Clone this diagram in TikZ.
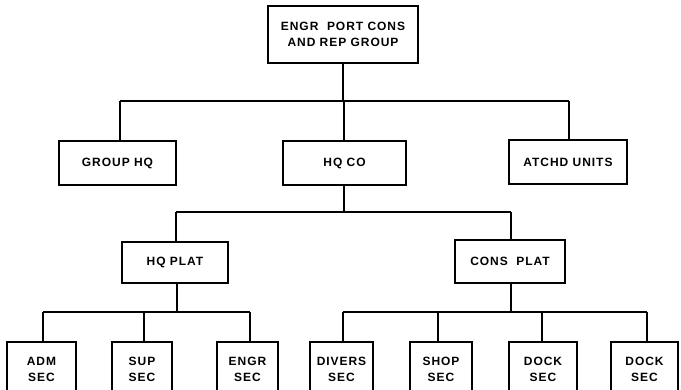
\documentclass[tikz,border=0pt]{standalone}
\usepackage{fontspec}
\newfontfamily\lblfont{Liberation Sans}[LetterSpace=8.0]
\tikzset{
  orgbox/.style={draw, line width=1.5pt, rectangle, inner sep=0pt, align=center,
    font=\lblfont\bfseries\fontsize{12}{16}\selectfont},
  wire/.style={line width=1.6pt}
}
\newcommand{\bx}[6]{% name, x1, x2, y1, y2, text
  \node[orgbox, minimum width={(#3-#2)*1pt}, minimum height={(#5-#4)*1pt}]
    (#1) at ({(#2+#3)/2},{(#4+#5)/2}) {#6};}
\begin{document}
\begin{tikzpicture}[x=1pt,y=-1pt]
\useasboundingbox (0,0) rectangle (681,389);
\clip (0,0) rectangle (681,389);
\fill[white] (0,0) rectangle (681,389);
% boxes
\bx{top}{268}{418}{6}{63}{ENGR\ \ PORT CONS\\AND REP GROUP}
\bx{grp}{59}{176}{141}{185}{GROUP HQ}
\bx{hqco}{283}{406}{141}{185}{HQ CO}
\bx{atchd}{509}{627}{140}{184}{ATCHD UNITS}
\bx{hqplat}{122}{228}{242}{283}{HQ PLAT}
\bx{consplat}{455}{565}{240}{283}{CONS\ \ PLAT}
\bx{adm}{7}{76}{342}{396}{ADM\\SEC}
\bx{sup}{112}{172}{342}{396}{SUP\\SEC}
\bx{engrsec}{217}{278}{342}{396}{ENGR\\SEC}
\bx{divers}{310}{373}{342}{396}{DIVERS\\SEC}
\bx{shop}{410}{472}{342}{396}{SHOP\\SEC}
\bx{docka}{509}{577}{342}{396}{DOCK\\SEC}
\bx{dockb}{611}{678}{342}{396}{DOCK\\SEC}
% level 1 bus
\coordinate (b1L) at (120,101);
\coordinate (b1M) at (344,101);
\coordinate (b1R) at (569,101);
\draw[wire] (b1L) -- (b1R);
\draw[wire] (top.south) -- (top.south |- b1M);
\draw[wire] (b1L) -- (b1L |- grp.north);
\draw[wire] (b1M) -- (b1M |- hqco.north);
\draw[wire] (b1R) -- (b1R |- atchd.north);
% level 2 bus
\coordinate (b2L) at (176,212);
\coordinate (b2M) at (344,212);
\coordinate (b2R) at (511,212);
\draw[wire] (b2L) -- (b2R);
\draw[wire] (b2M |- hqco.south) -- (b2M);
\draw[wire] (b2L) -- (b2L |- hqplat.north);
\draw[wire] (b2R) -- (b2R |- consplat.north);
% level 3 left bus
\coordinate (b3a) at (43,312);
\coordinate (b3b) at (144,312);
\coordinate (b3c) at (250,312);
\coordinate (b3m) at (177,312);
\draw[wire] (b3a) -- (b3c);
\draw[wire] (b3m |- hqplat.south) -- (b3m);
\draw[wire] (b3a) -- (b3a |- adm.north);
\draw[wire] (b3b) -- (b3b |- sup.north);
\draw[wire] (b3c) -- (b3c |- engrsec.north);
% level 3 right bus
\coordinate (b4a) at (343,312);
\coordinate (b4b) at (438,312);
\coordinate (b4c) at (542,312);
\coordinate (b4d) at (647,312);
\coordinate (b4m) at (511,312);
\draw[wire] (b4a) -- (b4d);
\draw[wire] (b4m |- consplat.south) -- (b4m);
\draw[wire] (b4a) -- (b4a |- divers.north);
\draw[wire] (b4b) -- (b4b |- shop.north);
\draw[wire] (b4c) -- (b4c |- docka.north);
\draw[wire] (b4d) -- (b4d |- dockb.north);
\end{tikzpicture}
\end{document}
